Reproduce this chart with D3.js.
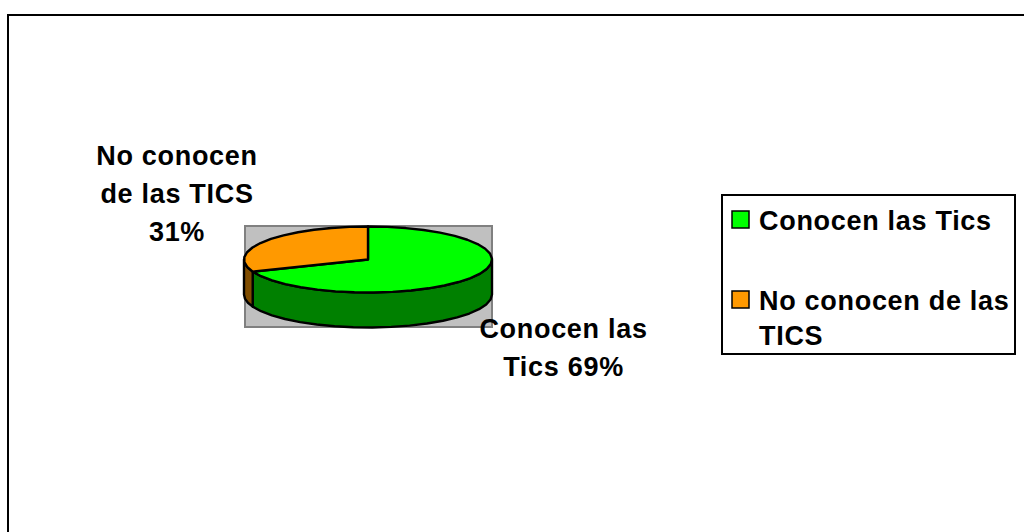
<!DOCTYPE html>
<html>
<head>
<meta charset="utf-8">
<script src="https://cdn.jsdelivr.net/npm/d3@7/dist/d3.min.js"></script>
<style>
html,body{margin:0;padding:0;background:#fff;overflow:hidden}
svg{display:block}
text{font-family:"Liberation Sans",Arial,sans-serif;font-weight:700;fill:#000}
</style>
</head>
<body>
<script>
const categories = ["Conocen las Tics", "No conocen de las TICS"];
const values = [69, 31];
const topColors = ["#00ff00", "#ff9900"];
const sideColors = ["#008000", "#804d00"];
const dataLabels = [
  ["Conocen las", "Tics 69%"],
  ["No conocen", "de las TICS", "31%"]
];
const legendLines = [["Conocen las Tics"], ["No conocen de las", "TICS"]];

const width = 1024, height = 532;
const fontSize = 27, spacing = 0.7;

const svg = d3.select("body").append("svg")
  .attr("width", width).attr("height", height);

// Chart frame: only its top and left edges fall inside the page.
svg.append("path")
  .attr("d", d3.line()([[8, height], [8, 15], [width, 15]]))
  .attr("fill", "none").attr("stroke", "#000").attr("stroke-width", 2);

// Plot area behind the pie
const plot = {x0: 245, x1: 492, y0: 226, y1: 327};
svg.append("rect")
  .attr("x", plot.x0).attr("y", plot.y0)
  .attr("width", plot.x1 - plot.x0).attr("height", plot.y1 - plot.y0)
  .attr("fill", "#c0c0c0").attr("stroke", "#808080").attr("stroke-width", 2);

// Tilted pie: angles run clockwise from twelve o'clock and are flattened onto an ellipse.
const cx = 368, cy = 259.5, rx = 124, ry = 33, depth = 35;
const xAt = d3.scaleLinear().domain([-1, 1]).range([cx - rx, cx + rx]);
const yAt = d3.scaleLinear().domain([-1, 1]).range([cy - ry, cy + ry]);
const project = (a, drop = 0) => [xAt(Math.sin(a)), yAt(-Math.cos(a)) + drop];
const arcSteps = (a0, a1) => {
  const n = Math.max(1, Math.ceil((a1 - a0) / (Math.PI / 20)));
  return d3.range(n + 1).map(i => a0 + (a1 - a0) * i / n);
};
const slices = d3.pie().sort(null)(values);
const line = d3.line();
const outline = {stroke: "#000", "stroke-width": 2.4, "stroke-linejoin": "round"};
const applyStyle = (sel, o) => Object.entries(o).forEach(([k, v]) => sel.attr(k, v));

// Only the front half of the rim (a quarter turn to three quarters) is visible.
const frontStart = Math.PI / 2, frontEnd = 3 * Math.PI / 2;
slices.forEach((s, i) => {
  const a0 = Math.max(s.startAngle, frontStart), a1 = Math.min(s.endAngle, frontEnd);
  if (a1 <= a0) return;
  const steps = arcSteps(a0, a1);
  const pts = steps.map(a => project(a)).concat(steps.slice().reverse().map(a => project(a, depth)));
  const p = svg.append("path").attr("d", line(pts) + "Z").attr("fill", sideColors[i]);
  applyStyle(p, outline);
});

slices.forEach((s, i) => {
  const pts = [[cx, cy]].concat(arcSteps(s.startAngle, s.endAngle).map(a => project(a)));
  const p = svg.append("path").attr("d", line(pts) + "Z").attr("fill", topColors[i]);
  applyStyle(p, outline);
});

// Multi-line bold text block
function textBlock(lines, x, baselines, anchor) {
  lines.forEach((t, i) => {
    svg.append("text")
      .attr("x", x).attr("y", baselines[i])
      .attr("text-anchor", anchor)
      .attr("font-size", fontSize)
      .attr("letter-spacing", spacing)
      .text(t);
  });
}

// Data labels beside the pie
textBlock(dataLabels[0], 563.5, [338, 376], "middle");
textBlock(dataLabels[1], 177, [165, 203, 241], "middle");

// Legend
svg.append("rect")
  .attr("x", 722).attr("y", 195).attr("width", 293).attr("height", 159)
  .attr("fill", "#fff").attr("stroke", "#000").attr("stroke-width", 2);
const swatchY = [211, 291];
const legendBase = [[230], [310, 345]];
categories.forEach((c, i) => {
  svg.append("rect")
    .attr("x", 732).attr("y", swatchY[i]).attr("width", 17).attr("height", 17)
    .attr("fill", topColors[i]).attr("stroke", "#000").attr("stroke-width", 1.5);
  textBlock(legendLines[i], 759, legendBase[i], "start");
});
</script>
</body>
</html>
